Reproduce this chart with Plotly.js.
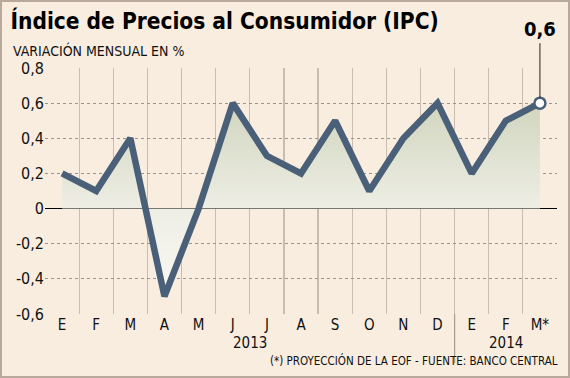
<!DOCTYPE html>
<html>
<head>
<meta charset="utf-8">
<script src="https://cdn.plot.ly/plotly-3.0.1.min.js"></script>
<style>
html,body{margin:0;padding:0;background:#f8eddf;}
#wrap{width:570px;height:378px;box-sizing:border-box;border:2px solid #b9a89c;background:#f8eddf;}
#chart{width:566px;height:374px;}
</style>
</head>
<body>
<div id="wrap"><div id="chart"></div></div>
<script>
const months = ["E","F","M","A","M","J","J","A","S","O","N","D","E","F","M*"];
const values = [0.2, 0.1, 0.4, -0.5, 0.0, 0.6, 0.3, 0.2, 0.5, 0.1, 0.4, 0.6, 0.2, 0.5, 0.6];
const years = ["2013", "2014"];
const yTickVals = [-0.6, -0.4, -0.2, 0, 0.2, 0.4, 0.6, 0.8];
const yTickText = ["-0,6", "-0,4", "-0,2", "0", "0,2", "0,4", "0,6", "0,8"];
const titleText = "Índice de Precios al Consumidor (IPC)";
const subtitleText = "VARIACIÓN MENSUAL EN %";
const noteText = "(*) PROYECCIÓN DE LA EOF - FUENTE: BANCO CENTRAL";

const xIdx = months.map((_, i) => i);
const boundaries = [];
for (let i = 0; i <= months.length; i++) boundaries.push(i - 0.5);
const last = values.length - 1;
const lineColor = "#4a6078";
const font = "DejaVu Sans Condensed, DejaVu Sans, sans-serif";

const traces = [
  {
    x: xIdx, y: values, type: "scatter", mode: "lines",
    line: {color: lineColor, width: 6.5},
    fill: "tozeroy",
    fillgradient: {type: "vertical", start: -0.6, stop: 0.6,
      colorscale: [[0, "#fbfaf5"], [0.5, "#eeeee5"], [1, "#d1d5be"]]},
    hoverinfo: "skip"
  },
  {
    x: [xIdx[last]], y: [values[last]], type: "scatter", mode: "markers",
    marker: {size: 11, color: "#ffffff", line: {color: lineColor, width: 2.5}},
    hoverinfo: "skip"
  }
];

const layout = {
  width: 566, height: 374,
  margin: {l: 43, r: 11, t: 66, b: 62},
  paper_bgcolor: "#f8eddf", plot_bgcolor: "#f8eddf",
  showlegend: false,
  separators: ",.",
  font: {family: font, color: "#111", size: 14},
  title: {text: titleText, font: {family: font, size: 22.5, color: "#000", weight: "bold"},
    xref: "container", yref: "container", x: 0.015, xanchor: "left", y: 0.97, yanchor: "top"},
  xaxis: {
    range: [-0.5, months.length - 0.5],
    tickvals: xIdx, ticktext: months,
    showgrid: false, zeroline: false, showline: false, ticks: "",
    tickfont: {size: 15, color: "#111"},
    minor: {tickvals: boundaries, showgrid: true, gridcolor: "#c9bdb1", gridwidth: 1.2, ticks: ""}
  },
  yaxis: {
    range: [-0.6, 0.8],
    tickvals: yTickVals, ticktext: yTickText,
    showgrid: true, gridcolor: "#9a948e", griddash: "3px,3px", gridwidth: 1,
    zeroline: true, zerolinecolor: "#000", zerolinewidth: 1.5,
    showline: false, ticks: "",
    tickfont: {size: 16, color: "#111"}
  },
  shapes: [
    {type: "line", xref: "x", yref: "paper", x0: 11.5, x1: 11.5, y0: -0.2, y1: 0,
     line: {color: "#a89c92", width: 1.2}}
  ],
  annotations: [
    {text: subtitleText, xref: "paper", yref: "paper", x: -0.066, y: 1.07,
     xanchor: "left", yanchor: "middle", showarrow: false,
     font: {family: font, size: 14, color: "#111"}},
    {text: years[0], xref: "x", yref: "paper", x: 5.5, y: -0.118,
     xanchor: "center", yanchor: "middle", showarrow: false, font: {size: 15, color: "#111"}},
    {text: years[1], xref: "x", yref: "paper", x: 13, y: -0.118,
     xanchor: "center", yanchor: "middle", showarrow: false, font: {size: 15, color: "#111"}},
    {text: noteText, xref: "paper", yref: "paper", x: 1.005, y: -0.19,
     xanchor: "right", yanchor: "middle", showarrow: false, font: {size: 11.5, color: "#111"}},
    {text: "0,6", xref: "x", yref: "y", x: xIdx[last], y: values[last],
     showarrow: true, arrowhead: 0, arrowwidth: 1, arrowcolor: "#222",
     ax: 0, ay: -60, standoff: 5, yanchor: "bottom",
     font: {family: font, size: 20, color: "#000", weight: "bold"}}
  ]
};

Plotly.newPlot("chart", traces, layout, {displayModeBar: false, staticPlot: true});
</script>
</body>
</html>
